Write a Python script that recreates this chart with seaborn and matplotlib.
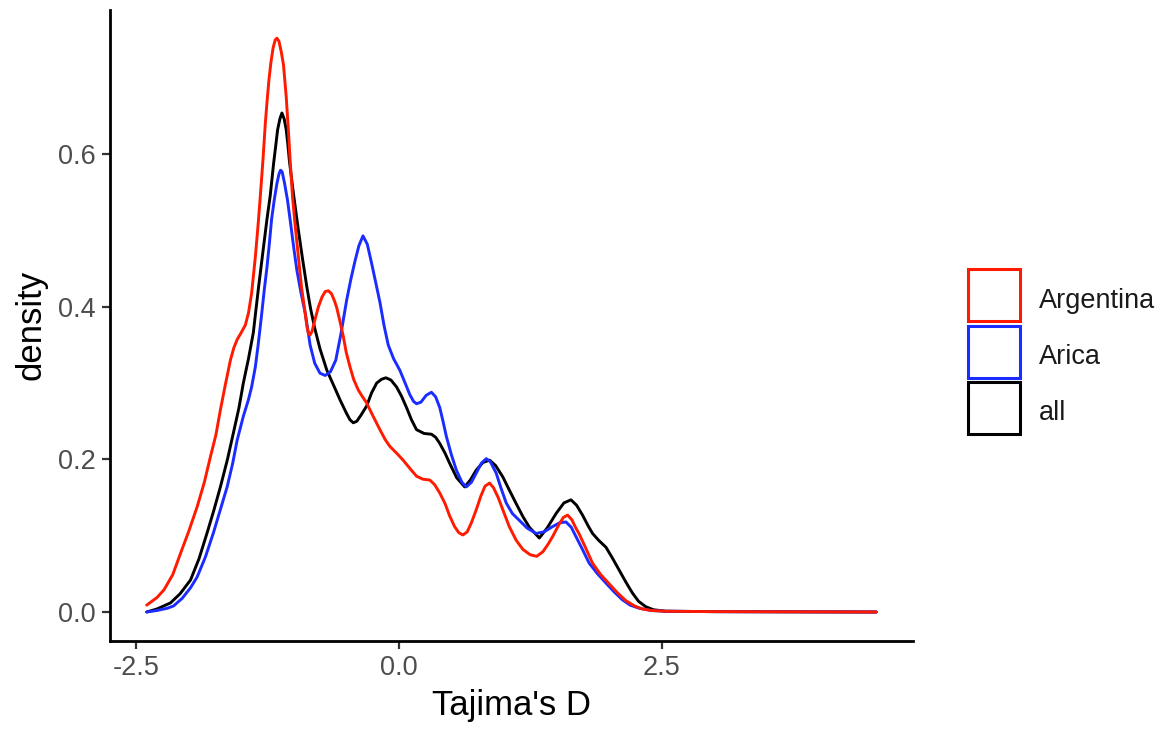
import matplotlib
matplotlib.use("Agg")
import matplotlib.pyplot as plt
from matplotlib.patches import Patch, Rectangle
from matplotlib.legend_handler import HandlerPatch
import seaborn as sns
import pandas as pd

# ---- data ----
groups = ["Argentina", "Arica", "all"]
colors = {"Argentina": "#ff1a00", "Arica": "#1a2cff", "all": "#000000"}

argentina_x = [-2.398, -2.30, -2.234, -2.15, -2.076, -2.00, -1.918, -1.85, -1.791, -1.74,
               -1.697, -1.65, -1.602, -1.57, -1.538, -1.50, -1.46, -1.43, -1.40, -1.365,
               -1.34, -1.318, -1.292, -1.27, -1.254, -1.235, -1.216, -1.195, -1.175, -1.159,
               -1.14, -1.118, -1.097, -1.071, -1.05, -1.033, -1.011, -0.985, -0.955, -0.925,
               -0.891, -0.875, -0.86, -0.845, -0.825, -0.80, -0.765, -0.73, -0.70, -0.67,
               -0.64, -0.61, -0.591, -0.56, -0.528, -0.50, -0.464, -0.43, -0.386, -0.35,
               -0.306, -0.25, -0.18, -0.13, -0.085, -0.02, 0.041, 0.10, 0.168, 0.23,
               0.294, 0.34, 0.389, 0.44, 0.483, 0.53, 0.57, 0.609, 0.65, 0.69,
               0.736, 0.78, 0.82, 0.863, 0.90, 0.945, 0.989, 1.05, 1.116, 1.18,
               1.25, 1.311, 1.37, 1.42, 1.463, 1.52, 1.565, 1.605, 1.645, 1.68,
               1.716, 1.78, 1.842, 1.92, 2.00, 2.08, 2.158, 2.24, 2.316, 2.40,
               2.537, 3.0, 4.54]
argentina_y = [0.009, 0.019, 0.029, 0.049, 0.077, 0.105, 0.138, 0.170, 0.204, 0.232,
               0.265, 0.298, 0.330, 0.346, 0.357, 0.366, 0.376, 0.392, 0.418, 0.465,
               0.505, 0.544, 0.593, 0.640, 0.668, 0.698, 0.721, 0.740, 0.750, 0.752,
               0.748, 0.734, 0.717, 0.675, 0.630, 0.590, 0.544, 0.505, 0.465, 0.425,
               0.392, 0.375, 0.365, 0.363, 0.368, 0.382, 0.400, 0.413, 0.420, 0.421,
               0.417, 0.407, 0.399, 0.381, 0.361, 0.340, 0.321, 0.305, 0.291, 0.283,
               0.274, 0.258, 0.239, 0.226, 0.217, 0.208, 0.199, 0.189, 0.178, 0.174,
               0.173, 0.167, 0.156, 0.142, 0.126, 0.112, 0.104, 0.101, 0.105, 0.117,
               0.134, 0.152, 0.165, 0.169, 0.163, 0.150, 0.134, 0.112, 0.094, 0.082,
               0.075, 0.073, 0.079, 0.089, 0.099, 0.114, 0.124, 0.127, 0.121, 0.111,
               0.102, 0.083, 0.064, 0.049, 0.037, 0.025, 0.015, 0.008, 0.004, 0.002,
               0.001, 0.0005, 0.0]

arica_x = [-2.398, -2.30, -2.20, -2.142, -2.06, -1.98, -1.918, -1.84, -1.763, -1.70,
           -1.633, -1.58, -1.538, -1.48, -1.431, -1.40, -1.365, -1.34, -1.318, -1.301,
           -1.28, -1.254, -1.23, -1.21, -1.185, -1.159, -1.14, -1.125, -1.11, -1.087,
           -1.059, -1.03, -1.00, -0.97, -0.93, -0.891, -0.86, -0.844, -0.80, -0.75,
           -0.70, -0.65, -0.60, -0.55, -0.496, -0.455, -0.417, -0.38, -0.341, -0.30,
           -0.259, -0.22, -0.18, -0.14, -0.101, -0.05, 0.009, 0.06, 0.104, 0.14,
           0.168, 0.21, 0.26, 0.31, 0.35, 0.389, 0.42, 0.452, 0.50, 0.547,
           0.60, 0.642, 0.69, 0.736, 0.785, 0.831, 0.87, 0.926, 0.97, 1.021,
           1.08, 1.147, 1.22, 1.305, 1.38, 1.463, 1.53, 1.59, 1.64, 1.684,
           1.75, 1.81, 1.89, 1.969, 2.05, 2.126, 2.20, 2.284, 2.40, 2.537,
           3.0, 4.54]
arica_y = [0.000, 0.002, 0.005, 0.008, 0.018, 0.032, 0.046, 0.072, 0.104, 0.133,
           0.164, 0.195, 0.225, 0.256, 0.278, 0.295, 0.321, 0.348, 0.374, 0.395,
           0.422, 0.452, 0.485, 0.515, 0.540, 0.562, 0.574, 0.579, 0.577, 0.562,
           0.540, 0.510, 0.478, 0.448, 0.418, 0.392, 0.365, 0.350, 0.326, 0.313,
           0.310, 0.315, 0.330, 0.365, 0.409, 0.437, 0.460, 0.480, 0.493, 0.482,
           0.457, 0.432, 0.406, 0.375, 0.350, 0.332, 0.317, 0.300, 0.285, 0.276,
           0.273, 0.275, 0.284, 0.288, 0.282, 0.268, 0.250, 0.230, 0.206, 0.186,
           0.170, 0.164, 0.170, 0.182, 0.195, 0.201, 0.197, 0.182, 0.163, 0.143,
           0.129, 0.120, 0.110, 0.103, 0.105, 0.112, 0.117, 0.118, 0.111, 0.099,
           0.081, 0.064, 0.050, 0.038, 0.026, 0.016, 0.009, 0.005, 0.002, 0.001,
           0.0005, 0.0]

all_x = [-2.398, -2.30, -2.171, -2.08, -1.981, -1.90, -1.823, -1.76, -1.697, -1.63,
         -1.573, -1.52, -1.479, -1.43, -1.384, -1.36, -1.334, -1.29, -1.254, -1.223,
         -1.191, -1.17, -1.153, -1.13, -1.112, -1.09, -1.071, -1.055, -1.040, -1.002,
         -0.955, -0.915, -0.875, -0.84, -0.80, -0.75, -0.685, -0.62, -0.559, -0.50,
         -0.465, -0.433, -0.40, -0.36, -0.306, -0.26, -0.211, -0.165, -0.123, -0.075,
         -0.022, 0.025, 0.073, 0.12, 0.168, 0.24, 0.31, 0.35, 0.389, 0.44,
         0.483, 0.55, 0.626, 0.68, 0.736, 0.80, 0.863, 0.92, 0.989, 1.05,
         1.116, 1.18, 1.242, 1.336, 1.41, 1.495, 1.57, 1.637, 1.69, 1.747,
         1.80, 1.842, 1.90, 1.969, 2.03, 2.095, 2.16, 2.221, 2.28, 2.348,
         2.42, 2.537, 3.0, 4.54]
all_y = [0.000, 0.004, 0.012, 0.024, 0.042, 0.070, 0.104, 0.133, 0.164, 0.200,
         0.235, 0.268, 0.300, 0.332, 0.366, 0.395, 0.426, 0.475, 0.515, 0.546,
         0.588, 0.612, 0.632, 0.647, 0.654, 0.646, 0.632, 0.612, 0.590, 0.548,
         0.500, 0.462, 0.426, 0.398, 0.372, 0.345, 0.317, 0.297, 0.278, 0.261,
         0.252, 0.248, 0.250, 0.258, 0.270, 0.287, 0.300, 0.305, 0.307, 0.304,
         0.295, 0.283, 0.268, 0.252, 0.239, 0.234, 0.233, 0.229, 0.221, 0.208,
         0.195, 0.176, 0.164, 0.173, 0.186, 0.196, 0.199, 0.192, 0.177, 0.160,
         0.142, 0.125, 0.111, 0.097, 0.110, 0.129, 0.143, 0.147, 0.140, 0.127,
         0.113, 0.103, 0.094, 0.085, 0.071, 0.055, 0.039, 0.025, 0.014, 0.007,
         0.003, 0.001, 0.0005, 0.0]

x_ticks = [-2.5, 0.0, 2.5]
x_tick_labels = ["-2.5", "0.0", "2.5"]
y_ticks = [0.0, 0.2, 0.4, 0.6]
y_tick_labels = ["0.0", "0.2", "0.4", "0.6"]

df = pd.concat([
    pd.DataFrame({"x": argentina_x, "density": argentina_y, "group": "Argentina"}),
    pd.DataFrame({"x": arica_x, "density": arica_y, "group": "Arica"}),
    pd.DataFrame({"x": all_x, "density": all_y, "group": "all"}),
], ignore_index=True)

sns.set_theme(style="white")
plt.rcParams["font.family"] = ["Liberation Sans", "DejaVu Sans"]

fig = plt.figure(figsize=(11.75, 7.32), dpi=100)
ax = fig.add_axes([110 / 1175, 1 - 640.7 / 732, (912.7 - 110) / 1175, (640.7 - 10) / 732])

draw_order = ["all", "Arica", "Argentina"]
sns.lineplot(data=df, x="x", y="density", hue="group", hue_order=draw_order,
             palette=colors, estimator=None, sort=True, legend=False,
             linewidth=2.1, ax=ax)
for ln in ax.get_lines():
    ln.set_solid_joinstyle("round")
    ln.set_solid_capstyle("round")

ax.set_xlim(-2.747, 4.887)
ax.set_ylim(-0.0376, 0.789)
ax.set_xticks(x_ticks)
ax.set_xticklabels(x_tick_labels)
ax.set_yticks(y_ticks)
ax.set_yticklabels(y_tick_labels)

for side in ["top", "right"]:
    ax.spines[side].set_visible(False)
for side in ["left", "bottom"]:
    ax.spines[side].set_visible(True)
    ax.spines[side].set_color("black")
    ax.spines[side].set_linewidth(2.0)

ax.tick_params(axis="both", which="major", length=6, width=1.6, color="#333333",
               labelsize=19.5, labelcolor="#4d4d4d", pad=4, direction="out",
               bottom=True, left=True)
ax.set_xlabel("Tajima's D", fontsize=25, color="black", labelpad=6)
ax.set_ylabel("density", fontsize=25, color="black", labelpad=8)
ax.grid(False)


def make_box(legend, orig_handle, xdescent, ydescent, width, height, fontsize):
    size = width
    cy = -ydescent + height / 2 + 2.2
    return Rectangle((-xdescent, cy - size / 2), size, size)


handles = [Patch(facecolor="white", edgecolor=colors[g], linewidth=2.2, label=g)
           for g in groups]
leg = fig.legend(handles=handles, loc="upper left",
                 bbox_to_anchor=(968 / 1175, 1 - 288 / 732),
                 bbox_transform=fig.transFigure, frameon=False,
                 fontsize=19.5, handlelength=1.92,
                 labelspacing=1.11, handletextpad=0.7, borderpad=0,
                 borderaxespad=0,
                 handler_map={Patch: HandlerPatch(patch_func=make_box)})
for t in leg.get_texts():
    t.set_color("#1a1a1a")

fig.savefig("out.png", dpi=100, facecolor="white")
